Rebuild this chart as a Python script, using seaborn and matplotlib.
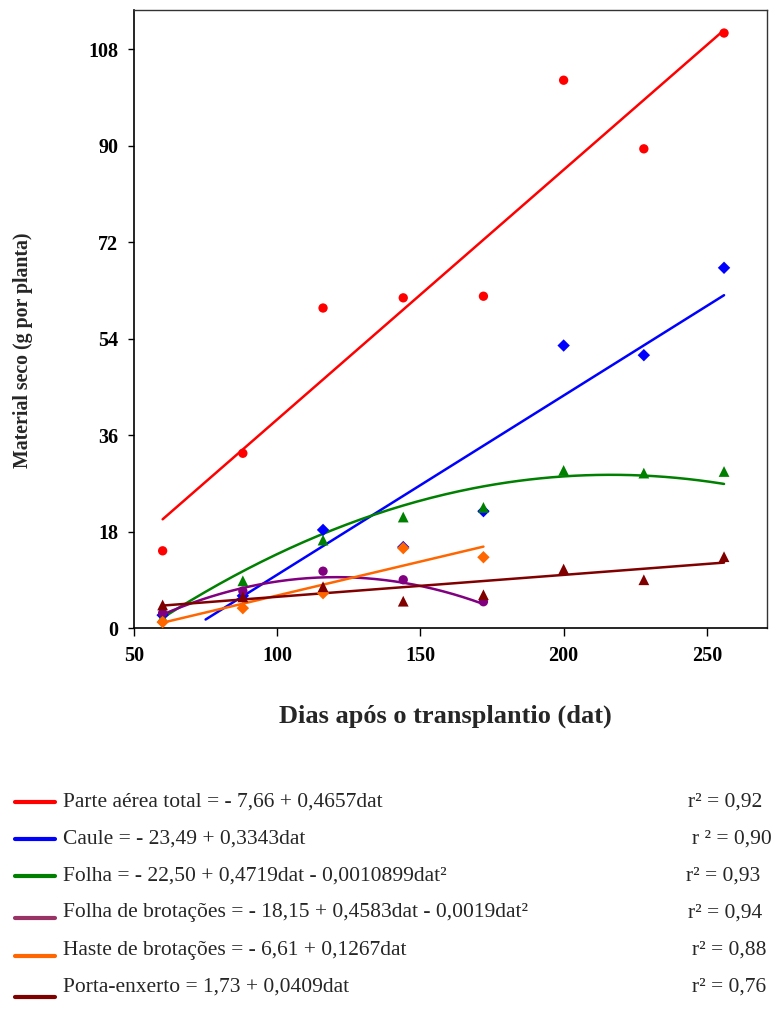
import numpy as np
import pandas as pd
import matplotlib
matplotlib.use("Agg")
import matplotlib.pyplot as plt
from matplotlib.lines import Line2D
import seaborn as sns

# ---------------- data ----------------
dat = [60, 88, 116, 144, 172, 200, 228, 256]
parte_aerea = [14.4, 32.6, 59.7, 61.6, 61.9, 102.2, 89.4, 111.0]
caule = [2.4, 6.0, 18.3, 15.1, 21.8, 52.7, 50.9, 67.2]
folha = [2.0, 8.8, 16.4, 20.7, 22.5, 29.4, 28.9, 29.2]
folha_brot = [2.8, 6.9, 10.6, 9.0, 4.9]
haste_brot = [1.1, 3.7, 6.5, 14.9, 13.2]
porta_enx = [4.3, 5.8, 7.7, 5.0, 6.2, 11.0, 9.0, 13.3]

# regression coefficients (c0, c1, c2) and fitted ranges
coef_parte = [-7.66, 0.4657, 0.0]
coef_caule = [-23.49, 0.3343, 0.0]
coef_folha = [-22.50, 0.4719, -0.0010899]
coef_fbrot = [-18.15, 0.4583, -0.0019]
coef_hbrot = [-6.61, 0.1267, 0.0]
coef_porta = [1.73, 0.0409, 0.0]

names = ["Parte aérea total", "Caule", "Folha", "Folha de brotações",
         "Haste de brotações", "Porta-enxerto"]
equations = [
    "Parte aérea total = - 7,66 + 0,4657dat",
    "Caule = - 23,49 + 0,3343dat",
    "Folha = - 22,50 + 0,4719dat - 0,0010899dat²",
    "Folha de brotações = - 18,15 + 0,4583dat - 0,0019dat²",
    "Haste de brotações = - 6,61 + 0,1267dat",
    "Porta-enxerto = 1,73 + 0,0409dat",
]
r2_labels = ["r² = 0,92", "r ² = 0,90", "r² = 0,93", "r² = 0,94", "r² = 0,88", "r² = 0,76"]

x_ticks = [50, 100, 150, 200, 250]
y_ticks = [0, 18, 36, 54, 72, 90, 108]

# ---------------- style ----------------
sns.set_style("ticks")
plt.rcParams["font.family"] = ["Liberation Serif", "DejaVu Serif"]

colors = ["#FF0000", "#0000FF", "#008000", "#800080", "#FF6600", "#800000"]
legend_colors = ["#FF0000", "#0000FF", "#008000", "#993366", "#FF6600", "#800000"]
markers = ["o", "D", "^", "o", "D", "^"]
msizes = [45, 40, 60, 45, 40, 60]

series_y = [parte_aerea, caule, folha, folha_brot, haste_brot, porta_enx]
coefs = [coef_parte, coef_caule, coef_folha, coef_fbrot, coef_hbrot, coef_porta]
fit_ranges = [(60, 256), (75, 256), (60, 256), (60, 172), (60, 172), (60, 256)]

fig = plt.figure(figsize=(7.82, 10.34), dpi=100)
ax = fig.add_axes([134 / 782, 1 - 628 / 1034, 633 / 782, 618 / 1034])

for name, ys, c, m, s, cf, rng in zip(names, series_y, colors, markers, msizes, coefs, fit_ranges):
    df = pd.DataFrame({"dat": dat[:len(ys)], "val": ys})
    xx = np.linspace(rng[0], rng[1], 200)
    yy = cf[0] + cf[1] * xx + cf[2] * xx ** 2
    sns.lineplot(x=xx, y=yy, color=c, lw=1.8, ax=ax, zorder=2)
    sns.scatterplot(data=df, x="dat", y="val", color=c, marker=m, s=s,
                    edgecolor="none", ax=ax, zorder=3, clip_on=False)

ax.set_xlim(50, 271)
ax.set_ylim(0, 115.3)
ax.set_xticks(x_ticks)
ax.set_yticks(y_ticks)
ax.set_xticklabels([str(v) for v in x_ticks], fontsize=14.5, fontweight="bold")
ax.set_yticklabels([str(v) for v in y_ticks], fontsize=14.5, fontweight="bold")
ax.tick_params(axis="x", direction="out", length=5.8, width=1, pad=7, colors="black")
ax.tick_params(axis="y", direction="out", length=4.3, width=1, pad=7, colors="black")
for sp in ["left", "bottom"]:
    ax.spines[sp].set_linewidth(1.2)
    ax.spines[sp].set_color("black")
for sp in ["top", "right"]:
    ax.spines[sp].set_linewidth(1.0)
    ax.spines[sp].set_color("#333333")
ax.set_xlabel("")
ax.set_ylabel("")

fig.text(445 / 782, 1 - 716 / 1034, "Dias após o transplantio (dat)",
         ha="center", va="center", fontsize=19, fontweight="bold")
fig.text(23 / 782, 1 - 350 / 1034, "Material seco (g por planta)",
         ha="center", va="center", rotation=90, fontsize=14.3, fontweight="bold")

# ---------------- equation legend ----------------
row_y = [802, 839, 876, 913, 950, 987]
line_dy = [0, 0, 0, 5, 6, 10]
r2_x = [688, 692, 686, 688, 692, 692]
for i in range(6):
    yc = 1 - row_y[i] / 1034
    yl = 1 - (row_y[i] + line_dy[i]) / 1034
    fig.add_artist(Line2D([15 / 782, 55 / 782], [yl, yl], color=legend_colors[i],
                          lw=3, transform=fig.transFigure))
    fig.text(63 / 782, yc, equations[i], ha="left", va="center", fontsize=15.5)
    fig.text(r2_x[i] / 782, yc, r2_labels[i], ha="left", va="center", fontsize=15.5)

fig.savefig("out.png", dpi=100)
